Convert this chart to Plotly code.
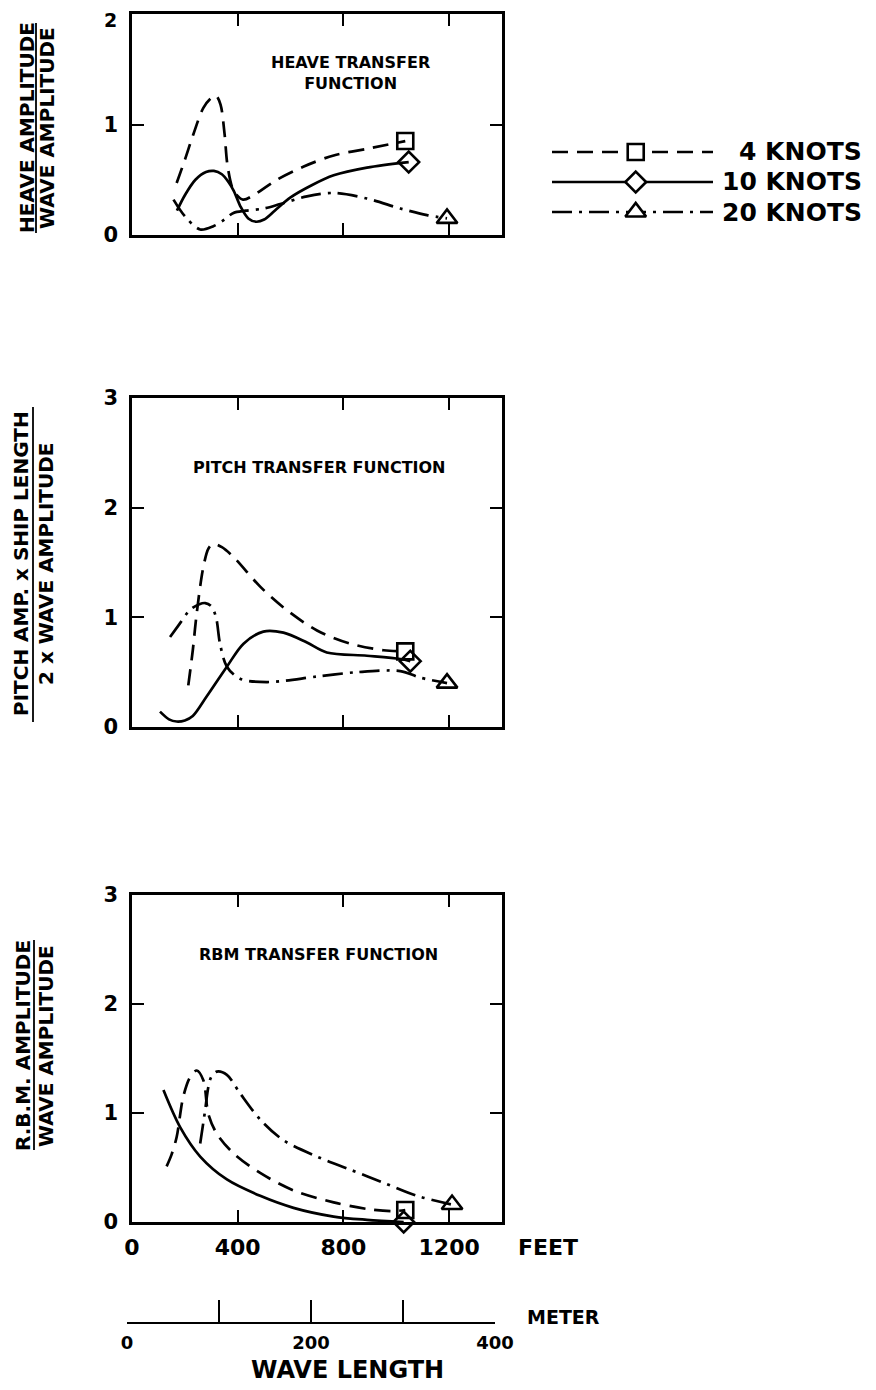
import plotly.graph_objects as go

W, H = 876, 1390
OFF = 8  # page body margin of the browser view

# ---------------- data (wave length in feet, response ratios) ----------------
series_names = ["4 KNOTS", "10 KNOTS", "20 KNOTS"]

heave_4kn_x = [169, 200, 232, 270, 300, 318, 335, 350, 362, 385, 420, 460, 548, 650, 763, 889, 1034]
heave_4kn_y = [0.47, 0.68, 0.91, 1.15, 1.24, 1.26, 1.18, 0.92, 0.62, 0.40, 0.32, 0.36, 0.50, 0.62, 0.72, 0.78, 0.85]
heave_10kn_x = [170, 200, 240, 280, 310, 340, 365, 385, 410, 440, 470, 500, 540, 600, 680, 763, 889, 1047]
heave_10kn_y = [0.22, 0.36, 0.50, 0.57, 0.58, 0.55, 0.48, 0.40, 0.26, 0.15, 0.12, 0.14, 0.22, 0.34, 0.45, 0.54, 0.61, 0.66]
heave_20kn_x = [157, 200, 258, 308, 350, 384, 430, 500, 561, 662, 763, 889, 1015, 1116, 1192]
heave_20kn_y = [0.32, 0.17, 0.05, 0.08, 0.14, 0.20, 0.22, 0.24, 0.28, 0.35, 0.38, 0.33, 0.24, 0.18, 0.15]

pitch_4kn_x = [213, 230, 245, 270, 290, 308, 340, 384, 485, 573, 700, 826, 952, 1034]
pitch_4kn_y = [0.38, 0.70, 1.04, 1.46, 1.63, 1.67, 1.64, 1.55, 1.28, 1.09, 0.88, 0.76, 0.70, 0.69]
pitch_10kn_x = [106, 140, 169, 200, 230, 283, 359, 422, 497, 573, 662, 737, 889, 1015, 1053]
pitch_10kn_y = [0.14, 0.07, 0.05, 0.06, 0.10, 0.28, 0.55, 0.76, 0.87, 0.86, 0.77, 0.68, 0.65, 0.62, 0.60]
pitch_20kn_x = [144, 180, 220, 255, 277, 300, 318, 333, 359, 409, 510, 700, 851, 1015, 1091, 1192]
pitch_20kn_y = [0.82, 0.94, 1.07, 1.12, 1.13, 1.10, 1.00, 0.76, 0.55, 0.44, 0.41, 0.46, 0.50, 0.51, 0.45, 0.40]

rbm_4kn_x = [131, 150, 169, 194, 220, 245, 270, 289, 321, 384, 485, 611, 763, 889, 990, 1034]
rbm_4kn_y = [0.51, 0.62, 0.78, 1.15, 1.33, 1.39, 1.30, 0.99, 0.81, 0.63, 0.45, 0.29, 0.18, 0.12, 0.10, 0.11]
rbm_10kn_x = [119, 182, 258, 359, 485, 611, 763, 889, 1028]
rbm_10kn_y = [1.21, 0.87, 0.60, 0.39, 0.24, 0.13, 0.05, 0.02, 0.0]
rbm_20kn_x = [258, 277, 289, 300, 321, 359, 409, 485, 573, 700, 826, 952, 1078, 1211]
rbm_20kn_y = [0.72, 1.03, 1.24, 1.33, 1.38, 1.35, 1.18, 0.94, 0.75, 0.60, 0.48, 0.36, 0.24, 0.16]

feet_ticks = [0, 400, 800, 1200]
meter_ticks = [0, 100, 200, 300, 400]
meter_labels = ["0", "", "200", "", "400"]

panel_titles = ["HEAVE TRANSFER<br>FUNCTION", "PITCH TRANSFER FUNCTION", "RBM TRANSFER FUNCTION"]
ylabel_top = ["HEAVE AMPLITUDE", "PITCH AMP. x SHIP LENGTH", "R.B.M. AMPLITUDE"]
ylabel_bot = ["WAVE AMPLITUDE", "2 x WAVE AMPLITUDE", "WAVE AMPLITUDE"]
y_max = [2, 3, 3]

# ---------------- styles ----------------
FONT = "DejaVu Sans"
dashes = ["16px,9px", "solid", "20px,7px,3px,7px"]
symbols = ["square-open", "diamond-open", "triangle-up-open"]
msizes = [16, 16, 18]

panels = [
    ([heave_4kn_x, heave_10kn_x, heave_20kn_x], [heave_4kn_y, heave_10kn_y, heave_20kn_y]),
    ([pitch_4kn_x, pitch_10kn_x, pitch_20kn_x], [pitch_4kn_y, pitch_10kn_y, pitch_20kn_y]),
    ([rbm_4kn_x, rbm_10kn_x, rbm_20kn_x], [rbm_4kn_y, rbm_10kn_y, rbm_20kn_y]),
]

def py(px):
    return 1 - (px - OFF) / H

def pxx(px):
    return (px - OFF) / W

# panel pixel boxes (top, bottom) in the viewed page
boxes = [(14, 235), (398, 727), (895, 1222)]
xdom = [pxx(132), pxx(502)]

fig = go.Figure()

for i, (xs, ys) in enumerate(panels):
    ax = "" if i == 0 else str(i + 1)
    for k in range(3):
        fig.add_trace(go.Scatter(
            x=xs[k], y=ys[k], mode="lines",
            line=dict(color="black", width=2.7, dash=dashes[k], shape="spline", smoothing=0.9),
            xaxis="x" + ax, yaxis="y" + ax, showlegend=False, cliponaxis=False,
            name=series_names[k]))
    for k in range(3):
        fig.add_trace(go.Scatter(
            x=[xs[k][-1]], y=[ys[k][-1]], mode="markers",
            marker=dict(symbol=symbols[k], size=msizes[k], color="black",
                        line=dict(color="black", width=2.6)),
            xaxis="x" + ax, yaxis="y" + ax, showlegend=False, cliponaxis=False,
            name=series_names[k]))

# meter scale helper subplot (axis only)
fig.add_trace(go.Scatter(x=[0, 400], y=[0, 0], mode="markers", marker=dict(opacity=0),
                         xaxis="x4", yaxis="y4", showlegend=False, hoverinfo="skip"))

# legend subplot: row 2 = 4 knots, 1 = 10 knots, 0 = 20 knots
for k in range(3):
    row = 2 - k
    fig.add_trace(go.Scatter(x=[0, 1], y=[row, row], mode="lines",
                             line=dict(color="black", width=2.7, dash=dashes[k]),
                             xaxis="x5", yaxis="y5", showlegend=False, hoverinfo="skip"))
    fig.add_trace(go.Scatter(x=[0.52], y=[row], mode="markers",
                             marker=dict(symbol=symbols[k].replace("-open", ""), size=msizes[k],
                                         color="white", line=dict(color="black", width=2.6)),
                             xaxis="x5", yaxis="y5", showlegend=False, hoverinfo="skip",
                             cliponaxis=False))

axis_common = dict(showline=True, linewidth=2.6, linecolor="black", mirror="ticks",
                   ticks="inside", ticklen=12, tickwidth=2.2, tickcolor="black",
                   showgrid=False, zeroline=False, fixedrange=True, automargin=False,
                   ticklabeloverflow="allow")

layout = dict(
    width=W, height=H, margin=dict(l=0, r=0, t=0, b=0, pad=0, autoexpand=False),
    paper_bgcolor="white", plot_bgcolor="white",
    font=dict(family=FONT, color="black", size=20, weight="bold"),
    showlegend=False,
)

for i in range(3):
    ax = "" if i == 0 else str(i + 1)
    top, bot = boxes[i]
    yt = list(range(y_max[i] + 1))
    ytext = [str(v) for v in yt]
    if i == 0:
        ytext[-1] = ""  # top label drawn separately so it is not cut by the page edge
    layout["xaxis" + ax] = dict(
        axis_common, domain=xdom, range=[0, 1400], anchor="y" + ax,
        tickvals=feet_ticks, showticklabels=(i == 2),
        tickfont=dict(family=FONT, size=22, weight="bold", color="black"),
        ticklabelstandoff=4)
    layout["yaxis" + ax] = dict(
        axis_common, domain=[py(bot), py(top)], range=[0, y_max[i]], anchor="x" + ax,
        tickvals=yt, ticktext=ytext,
        tickfont=dict(family=FONT, size=21, weight="bold", color="black"),
        ticklabelstandoff=7)

layout["xaxis4"] = dict(domain=[pxx(127), pxx(495)], range=[0, 400], anchor="y4",
                        showline=True, linewidth=2, linecolor="black", ticks="inside",
                        ticklen=22, tickwidth=2, tickcolor="black", tickvals=meter_ticks,
                        ticktext=meter_labels, showgrid=False, zeroline=False,
                        tickfont=dict(family=FONT, size=18, weight="bold", color="black"),
                        ticklabelstandoff=3, fixedrange=True, automargin=False,
                        ticklabeloverflow="allow")
layout["yaxis4"] = dict(domain=[py(1322), py(1296)], range=[0, 1], anchor="x4", visible=False,
                        fixedrange=True)
layout["xaxis5"] = dict(domain=[pxx(552), pxx(713)], range=[0, 1], anchor="y5", visible=False,
                        fixedrange=True)
layout["yaxis5"] = dict(domain=[py(227), py(137)], range=[-0.5, 2.5], anchor="x5", visible=False,
                        fixedrange=True)

fig.update_layout(**layout)

ann = []
def text(t, x, y, size, xanchor="center", yanchor="middle", angle=0, pad=1):
    ann.append(dict(text=t, x=pxx(x), y=py(y), xref="paper", yref="paper",
                    xanchor=xanchor, yanchor=yanchor, textangle=angle, showarrow=False,
                    borderpad=pad,
                    font=dict(family=FONT, size=size, weight="bold", color="black")))

# top tick label of the heave panel
text(str(y_max[0]), 118, 20, 19, xanchor="right", pad=0)

# panel titles
text(panel_titles[0], 350, 73, 16)
text(panel_titles[1], 319, 467, 16)
text(panel_titles[2], 318, 954, 16)

# y-axis titles (fractions)
ylab_pos = [(27, 47, 36, 128, 23, 233), (21, 46, 33, 564, 407, 722), (23, 46, 34, 1046, 940, 1150)]
shapes = []
for i, (x1, x2, xb, yc, ya, yb) in enumerate(ylab_pos):
    text(ylabel_top[i], x1, yc, 20, angle=-90)
    text(ylabel_bot[i], x2, yc, 20, angle=-90)
    shapes.append(dict(type="line", xref="paper", yref="paper", x0=pxx(xb), x1=pxx(xb),
                       y0=py(yb), y1=py(ya), line=dict(color="black", width=1.8)))

# unit labels and axis title
text("FEET", 548, 1247, 22)
text("METER", 563, 1317, 19)
text("WAVE LENGTH", 347, 1370, 24)

# legend texts
for k, name in enumerate(series_names):
    text(name, 864, [152, 182, 212][k], 25, xanchor="right")

fig.update_layout(annotations=ann, shapes=shapes)
fig.write_html("out.html")
